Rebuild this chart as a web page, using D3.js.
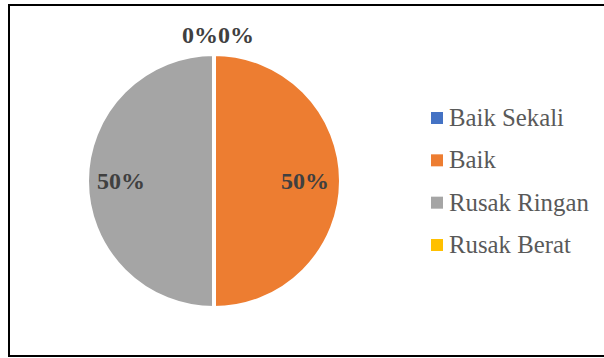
<!DOCTYPE html>
<html>
<head>
<meta charset="utf-8">
<script src="https://cdn.jsdelivr.net/npm/d3@7"></script>
<style>
  html, body { margin: 0; padding: 0; background: #fff; }
  svg { display: block; }
</style>
</head>
<body>
<svg id="chart" width="604" height="358"></svg>
<script>
'use strict';

// ── Data ────────────────────────────────────────────────────────────────
const categories = ['Baik Sekali', 'Baik', 'Rusak Ringan', 'Rusak Berat'];
const values     = [0, 50, 50, 0];
const colors     = ['#4472C4', '#ED7D31', '#A5A5A5', '#FFC000'];

const svg = d3.select('#chart');
const W = 604, H = 358;

// Frame (right edge runs off the picture)
svg.append('rect')
  .attr('x', 9).attr('y', 5)
  .attr('width', W + 20).attr('height', 351)
  .attr('fill', '#fff')
  .attr('stroke', '#000')
  .attr('stroke-width', 2);

// ── Pie ─────────────────────────────────────────────────────────────────
const CX = 214, CY = 181, R = 127;
const total = d3.sum(values);

const pie = d3.pie().sort(null).value(d => d.value);
const arcs = pie(categories.map((c, i) => ({ name: c, value: values[i], color: colors[i] })));
const arc = d3.arc().innerRadius(0).outerRadius(R);
const labelArc = d3.arc().innerRadius(R * 0.7).outerRadius(R * 0.7);

const g = svg.append('g').attr('transform', `translate(${CX},${CY})`);

g.selectAll('path')
  .data(arcs)
  .join('path')
  .attr('d', arc)
  .attr('fill', d => d.data.color)
  .attr('stroke', '#fff')
  .attr('stroke-width', 4)
  .attr('stroke-linejoin', 'round');

// Labels
const fmt = d => Math.round(d.data.value / total * 100) + '%';
g.selectAll('text.lbl')
  .data(arcs)
  .join('text')
  .attr('class', 'lbl')
  .attr('font-family', '"Liberation Serif", "Times New Roman", serif')
  .attr('font-size', 24)
  .attr('font-weight', 'bold')
  .attr('fill', '#404040')
  .attr('text-anchor', 'middle')
  .attr('x', d => {
    if (d.data.value > 0) return labelArc.centroid(d)[0] + (d.startAngle < Math.PI ? 2 : -4);
    // zero slices sit at the top, side by side
    return d.startAngle < Math.PI ? 22 : -14;
  })
  .attr('y', d => d.data.value > 0 ? labelArc.centroid(d)[1] + 8 : -R - 11)
  .text(fmt);

// ── Legend ──────────────────────────────────────────────────────────────
const legendY = d3.scalePoint().domain(categories).range([126, 253]);
const lg = svg.append('g');
const items = lg.selectAll('g')
  .data(categories)
  .join('g')
  .attr('transform', d => `translate(431,${legendY(d)})`);

items.append('rect')
  .attr('x', 0).attr('y', -14)
  .attr('width', 12).attr('height', 12)
  .attr('fill', (d, i) => colors[i]);

items.append('text')
  .attr('x', 18).attr('y', 0)
  .attr('font-family', '"Liberation Serif", "Times New Roman", serif')
  .attr('font-size', 24.8)
  .attr('fill', '#595959')
  .text(d => d);
</script>
</body>
</html>
